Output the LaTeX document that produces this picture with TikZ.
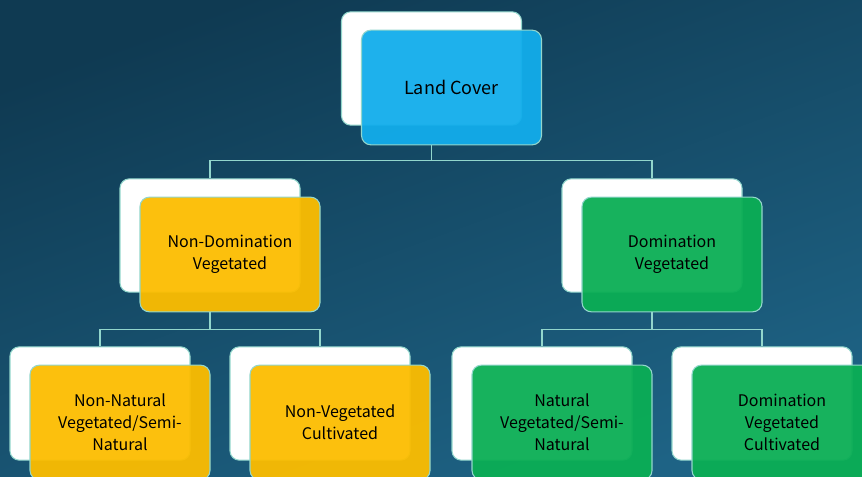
\documentclass[tikz,border=0pt]{standalone}
\usepackage{fontspec}
\setmainfont{Noto Sans CJK JP}
\usepackage{tikz}
\usetikzlibrary{positioning}
\definecolor{bgtop}{HTML}{0F3A52}
\definecolor{bgbottom}{HTML}{1E6385}
\definecolor{rim}{HTML}{92D6CC}
\definecolor{landblue}{HTML}{12ADEB}
\definecolor{nonyellow}{HTML}{FCBD00}
\definecolor{domgreen}{HTML}{0BAE55}
\begin{document}
\begin{tikzpicture}[x=0.75pt,y=-0.75pt]
    \tikzstyle{back} = [draw=rim, fill=white, rectangle, rounded corners=7pt, minimum width=135pt, minimum height=85pt, line width=0.8pt]
    \tikzstyle{front} = [draw=rim, rectangle, rounded corners=7pt, minimum width=135pt, minimum height=86pt, line width=0.8pt, fill opacity=0.95, text opacity=1, align=center, font=\fontsize{12}{16.5}\selectfont]
    \tikzstyle{link} = [draw=rim, line width=0.8pt]
    \useasboundingbox (0,0) rectangle (862,477);
    \clip (0,0) rectangle (862,477);
    \shade[top color=bgtop, bottom color=bgbottom, shading angle=20] (0,0) rectangle (862,477);

    \node (wland) [back] at (431.5,68.5) {};
    \node (land) [front, fill=landblue, font=\fontsize{13.5}{16.5}\selectfont] at ([shift={(20,19)}]wland.center) {Land Cover};

    \node (wnondom) [back] at (210,235.5) {};
    \node (nondom) [front, fill=nonyellow] at ([shift={(20,19)}]wnondom.center) {Non-Domination\\Vegetated};
    \node (wdom) [back] at (652,235.5) {};
    \node (dom) [front, fill=domgreen] at ([shift={(20,19)}]wdom.center) {Domination\\Vegetated};

    \node (wnonnat) [back] at (100,403.5) {};
    \node (nonnat) [front, fill=nonyellow] at ([shift={(20,19)}]wnonnat.center) {Non-Natural\\Vegetated/Semi-\\Natural};
    \node (wnonveg) [back] at (320,403.5) {};
    \node (nonveg) [front, fill=nonyellow] at ([shift={(20,19)}]wnonveg.center) {Non-Vegetated\\Cultivated};
    \node (wnat) [back] at (542,403.5) {};
    \node (nat) [front, fill=domgreen] at ([shift={(20,19)}]wnat.center) {Natural\\Vegetated/Semi-\\Natural};
    \node (wcult) [back] at (762,403.5) {};
    \node (cult) [front, fill=domgreen] at ([shift={(20,19)}]wcult.center) {Domination\\Vegetated\\Cultivated};

    \draw [link] (wland |- land.south) -- ++(0,15) -| (wnondom.north);
    \draw [link] (wland |- land.south) -- ++(0,15) -| (wdom.north);
    \draw [link] (wnondom |- nondom.south) -- ++(0,17) -| (wnonnat.north);
    \draw [link] (wnondom |- nondom.south) -- ++(0,17) -| (wnonveg.north);
    \draw [link] (wdom |- dom.south) -- ++(0,17) -| (wnat.north);
    \draw [link] (wdom |- dom.south) -- ++(0,17) -| (wcult.north);
  \end{tikzpicture}
\end{document}
